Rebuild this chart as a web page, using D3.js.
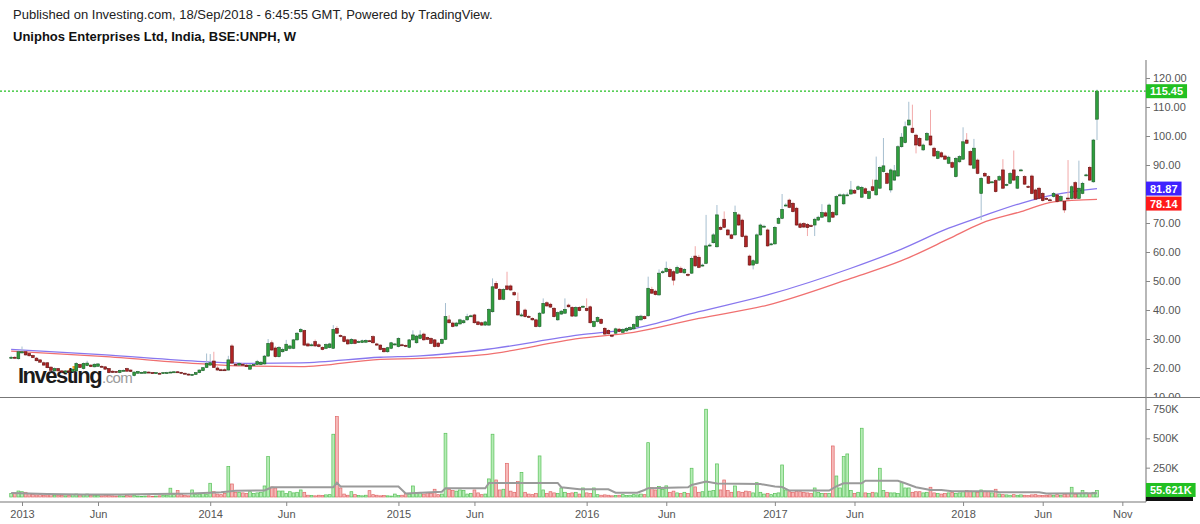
<!DOCTYPE html>
<html><head><meta charset="utf-8">
<script src="https://cdn.jsdelivr.net/npm/d3@7"></script>
<style>body{margin:0;background:#fff;} svg{display:block;font-family:"Liberation Sans",Arial,sans-serif;}</style>
</head><body><svg id="c" width="1200" height="524"></svg>
<script>
// ---- DATA ----
const firstWeek = [2012, 11, 17]; // first weekly bar (Mon 17 Dec 2012)
const opens = [
23.5,23.7,23.2,25.2,25.6,25.0,24.3,23.4,22.8,21.8,
21.8,20.3,19.0,19.8,19.0,18.6,19.0,18.8,19.0,21.2,
19.8,20.8,21.0,20.4,20.6,20.6,20.4,19.8,18.9,18.8,
18.4,19.1,19.8,19.3,17.4,18.2,18.4,18.2,18.6,18.4,
18.3,18.2,18.2,18.4,18.5,18.6,18.7,18.5,18.2,17.9,
17.6,17.8,18.4,19.1,20.2,21.0,22.4,20.0,19.4,19.4,
19.3,27.6,21.3,21.0,21.3,21.0,19.6,20.8,21.2,21.2,
21.4,24.1,28.7,26.9,23.9,25.6,26.0,26.8,26.8,29.7,
32.5,32.9,28.3,27.8,29.1,28.0,27.1,26.8,27.0,26.8,
33.7,31.2,30.8,29.7,28.4,29.7,29.0,28.8,28.9,29.4,
30.8,28.3,27.9,26.8,25.6,26.8,28.0,27.4,28.0,27.8,
27.1,29.7,28.7,30.2,31.7,30.5,30.2,29.7,28.6,28.5,
29.9,36.6,35.5,34.5,35.2,35.6,36.6,37.9,38.3,35.9,
35.6,34.8,34.8,39.4,49.2,47.1,43.7,48.3,48.3,46.0,
42.9,38.0,40.0,37.8,37.1,36.6,34.3,38.9,42.5,42.0,
40.6,36.6,38.6,38.9,41.7,40.9,37.9,40.9,41.1,40.6,
41.1,34.3,36.0,36.8,33.7,33.0,31.3,32.0,33.4,32.3,
32.8,33.2,33.5,34.3,36.6,37.7,38.0,47.1,46.5,45.2,
53.0,53.2,54.0,53.2,52.7,54.4,52.8,52.3,52.7,58.6,
58.2,55.4,56.1,62.2,63.2,61.8,68.5,71.3,67.6,65.9,
65.9,72.8,71.0,65.5,58.6,55.5,56.1,65.9,68.8,67.6,
62.6,62.8,69.9,71.6,76.0,77.9,76.8,75.1,69.7,69.8,
69.5,69.1,69.3,71.0,72.0,73.5,70.4,73.6,72.8,79.5,
76.6,79.5,80.0,81.2,81.6,78.9,81.8,78.5,82.5,79.7,
82.0,87.7,87.1,81.4,84.8,86.2,96.3,97.7,103.8,102.7,
100.3,99.2,95.2,98.6,100.0,95.8,92.3,94.2,93.1,90.6,
90.8,86.0,91.1,92.0,98.6,94.6,88.9,91.7,80.2,87.1,
86.0,84.0,84.6,84.8,88.3,83.0,83.7,88.3,82.0,88.2,
86.0,82.6,86.2,81.4,82.0,80.2,78.5,78.0,79.1,79.7,
77.7,77.4,78.6,78.5,83.9,78.5,80.2,86.4,89.2,84.2,
105.8];
const highs = [
24.2,24.1,26.0,27.4,25.9,25.3,24.6,23.8,23.0,22.2,
22.0,20.6,20.2,20.0,19.3,19.3,19.2,19.8,22.0,21.5,
21.9,22.5,21.3,21.6,21.7,20.9,20.6,20.0,19.2,19.0,
19.4,19.5,20.1,19.5,18.8,19.0,18.7,18.9,18.8,18.6,
18.6,18.4,18.6,18.7,18.8,18.9,18.9,18.7,18.4,18.1,
18.0,18.6,19.5,20.3,25.0,24.8,25.6,20.6,19.8,19.9,
24.2,28.2,21.8,22.0,21.7,21.4,21.3,21.6,22.8,22.4,
24.5,30.0,29.5,27.5,27.6,27.0,29.7,28.0,30.0,32.4,
33.8,33.2,28.8,28.5,29.8,28.5,27.5,28.5,28.7,34.8,
34.4,31.6,31.2,30.1,30.3,30.0,29.5,29.8,29.9,29.7,
31.3,28.7,28.2,27.0,27.3,29.0,28.6,30.6,28.4,28.1,
30.0,33.0,31.4,33.0,32.2,30.8,30.6,30.0,29.0,30.2,
42.4,38.2,36.0,35.9,37.0,36.7,38.7,38.4,38.7,36.3,
36.0,36.3,40.6,50.9,50.0,47.6,47.5,53.2,48.8,46.5,
46.0,39.0,40.5,38.3,37.5,37.0,39.3,44.0,43.0,42.5,
41.0,39.5,40.0,44.0,42.2,41.3,41.3,41.3,41.6,44.0,
41.5,36.4,37.8,37.2,34.1,33.4,31.7,33.9,33.8,33.7,
34.1,34.4,35.4,38.2,38.4,38.1,51.5,48.0,47.0,54.0,
53.8,56.7,54.6,53.7,55.3,55.0,54.5,52.8,58.5,62.0,
59.0,56.0,72.8,63.0,66.5,76.2,69.0,74.0,68.0,66.3,
76.0,73.3,71.5,66.0,59.1,57.5,66.4,69.8,69.4,68.1,
63.2,69.0,72.1,80.0,76.8,78.4,77.3,75.6,70.2,70.3,
70.0,69.6,71.8,72.5,76.5,74.0,76.7,74.1,79.6,80.2,
80.2,80.5,84.5,81.7,83.0,82.8,82.3,81.3,85.0,92.9,
89.7,99.3,87.6,88.8,90.0,96.8,101.0,105.0,111.8,110.8,
100.8,99.7,97.4,101.4,109.0,96.3,95.1,94.7,93.6,93.2,
91.3,92.8,93.4,103.0,101.0,95.1,99.0,92.2,85.9,87.6,
86.5,84.5,85.1,86.5,92.0,83.6,87.6,95.0,86.5,88.7,
86.5,83.1,86.7,81.9,82.5,80.7,79.0,78.5,80.7,80.2,
79.6,77.9,91.7,83.0,84.4,91.5,84.2,87.0,89.7,99.0,
116.0];
const lows = [
23.2,23.3,22.9,25.0,24.3,24.0,23.4,22.3,21.8,20.8,
19.9,18.9,18.7,18.8,18.4,18.4,18.5,18.6,18.7,20.0,
19.5,20.6,20.3,20.2,20.4,20.2,19.4,18.2,18.3,18.5,
18.2,18.9,18.7,18.6,17.1,18.0,18.2,18.0,18.3,18.1,
18.1,17.9,18.0,18.2,18.3,18.4,18.4,18.1,17.8,17.4,
17.4,17.6,18.2,18.9,20.0,20.8,20.0,19.1,19.0,19.1,
19.1,21.3,20.7,20.8,20.8,20.3,19.3,20.6,21.0,21.0,
21.2,23.9,25.9,23.6,23.6,25.3,25.8,26.4,26.5,29.4,
32.2,27.6,27.3,27.5,27.3,27.1,26.1,26.5,26.8,26.6,
31.7,30.6,28.8,28.0,28.2,28.2,28.6,28.6,28.6,29.0,
28.4,27.6,26.1,25.3,25.3,26.5,27.7,27.1,27.6,27.2,
26.8,29.4,28.4,29.9,29.4,29.6,28.2,27.1,27.1,28.2,
29.6,35.3,34.0,34.2,34.9,35.3,36.3,37.6,35.3,34.7,
34.5,34.5,34.5,39.1,47.2,43.4,43.4,46.8,46.6,44.9,
38.0,37.7,37.4,37.2,36.3,34.0,34.0,38.6,41.1,40.7,
37.4,36.3,38.3,38.6,40.8,37.6,37.6,39.5,40.8,39.5,
35.3,34.0,35.7,35.1,31.4,31.5,30.6,31.7,32.3,32.0,
32.5,32.9,33.2,34.0,36.3,36.7,37.7,45.5,45.0,44.9,
52.5,52.9,51.2,48.5,52.4,52.7,52.5,51.5,52.4,54.9,
54.4,55.0,55.8,61.8,62.9,61.5,67.5,68.2,65.6,64.4,
65.6,69.0,65.0,61.5,55.2,54.0,55.8,65.6,68.5,61.8,
62.3,62.5,69.6,71.3,75.7,75.1,73.6,69.0,68.2,68.3,
65.5,68.7,65.5,70.7,71.7,72.1,70.1,71.7,72.5,79.2,
76.3,79.4,79.7,80.0,81.3,78.6,79.9,78.2,80.9,79.4,
81.7,87.4,83.4,80.5,84.5,85.9,96.0,97.4,103.5,100.9,
94.0,96.3,94.9,98.3,96.6,92.8,92.0,92.5,91.7,90.3,
88.9,85.7,90.8,91.7,97.2,89.7,88.6,86.8,71.0,85.9,
83.4,83.7,80.5,84.5,81.7,82.7,83.4,84.5,81.7,87.9,
83.1,82.1,79.9,77.9,78.2,77.4,78.1,77.5,78.8,77.1,
77.4,73.5,78.2,78.2,78.2,78.2,79.9,86.1,84.5,83.9,
98.6];
const closes = [
23.7,23.6,25.6,25.6,24.5,24.2,23.6,22.5,22.0,21.0,
20.1,19.2,19.8,19.0,18.6,19.0,18.8,19.5,21.6,20.2,
21.6,21.7,20.5,21.3,21.4,20.4,19.6,18.4,18.5,18.7,
19.2,19.2,18.9,18.8,18.6,18.8,18.5,18.7,18.5,18.3,
18.4,18.1,18.4,18.4,18.6,18.7,18.6,18.3,18.0,17.6,
17.8,18.4,19.3,20.1,21.6,21.8,20.2,19.3,19.3,19.3,
22.8,21.7,21.0,21.6,21.0,20.5,21.0,21.2,22.2,22.0,
24.1,28.5,26.2,23.9,27.1,26.4,28.2,27.6,29.7,32.0,
33.3,27.9,27.6,28.0,27.6,27.4,26.4,28.1,28.3,33.3,
32.0,31.0,29.1,28.3,29.9,28.5,29.1,29.4,29.5,29.3,
28.7,27.9,26.4,25.6,27.0,28.7,28.3,30.2,27.9,27.5,
29.7,31.4,31.0,31.4,29.7,29.9,28.5,27.4,27.4,29.9,
37.7,35.6,34.3,35.5,36.6,36.3,37.7,38.0,35.6,35.0,
34.8,35.9,40.2,48.0,47.5,43.7,47.1,47.1,46.9,45.2,
38.3,38.3,37.7,37.5,36.6,34.3,38.9,42.3,41.4,41.0,
37.7,39.1,39.6,40.2,41.1,37.9,40.9,39.8,41.3,39.8,
35.6,36.0,37.4,35.4,31.7,31.8,31.1,33.5,32.6,33.3,
33.7,34.0,35.0,37.7,37.9,37.0,47.5,45.8,45.3,52.7,
53.2,54.4,51.5,50.3,54.7,53.0,54.0,52.1,57.8,55.2,
54.7,55.5,62.1,62.4,65.9,72.8,67.8,68.5,65.9,64.7,
73.6,69.3,65.3,61.8,55.5,57.0,65.9,69.3,68.9,62.1,
62.8,68.5,71.6,74.7,76.2,75.4,73.9,69.3,68.5,68.6,
68.4,69.0,71.3,72.0,73.6,72.4,76.2,72.0,79.1,79.7,
79.7,79.7,81.4,80.3,82.5,82.3,80.2,80.8,81.2,84.8,
89.2,89.7,83.7,88.3,88.0,96.3,99.6,103.2,105.5,101.2,
96.9,96.6,96.9,100.9,96.9,93.1,94.6,92.8,92.0,92.7,
89.2,92.3,92.9,98.0,97.5,90.0,95.8,87.1,85.4,86.2,
83.7,84.2,80.8,86.0,82.0,83.3,87.1,84.8,86.0,88.3,
83.4,82.4,80.2,78.2,78.5,77.7,78.4,77.8,80.2,77.4,
79.1,74.5,78.5,82.5,78.5,82.0,83.7,86.6,84.8,98.6,
115.45];
// weekly volume, thousands of shares
const volumesK = [
30,35,51,45,40,30,22,18,20,15,
18,20,15,12,14,10,12,20,25,18,
22,25,15,12,14,10,12,15,10,8,
10,8,12,10,15,8,6,8,10,6,
8,10,12,15,75,20,55,25,15,10,
60,20,25,30,20,117,45,25,20,30,
259,111,40,40,35,30,45,30,35,40,
94,344,85,77,51,51,30,45,35,40,
60,40,15,12,10,15,12,18,20,535,
685,77,25,15,45,20,12,10,15,54,
20,15,10,12,10,8,25,12,15,30,
25,94,30,40,25,35,30,66,20,25,
543,66,55,50,60,55,25,30,60,35,
20,25,154,535,145,60,66,287,50,40,
131,210,40,25,20,30,350,60,30,45,
35,30,77,40,30,35,40,25,77,35,
30,77,20,15,18,15,10,12,15,20,
12,15,20,18,25,20,463,80,60,90,
65,95,40,50,35,30,40,30,245,86,
40,45,748,50,55,282,60,145,55,40,
94,45,40,50,45,35,122,40,25,30,
20,30,35,273,60,45,40,50,45,40,
35,30,77,40,30,30,30,435,179,77,
344,367,55,30,40,586,35,30,40,35,
245,55,40,35,35,30,122,77,77,40,
45,45,35,40,83,35,30,25,30,35,
40,30,35,45,55,50,45,40,60,50,
45,35,66,25,20,18,15,20,15,18,
15,12,18,20,15,12,15,18,15,20,
15,25,30,83,25,30,55,35,30,40,
55.621];
// moving averages (sampled at bar indices)
const maIdx  = [0,25,53,64,80,102,113,130,157,172,190,209,232,246,259,268,279,288,300];
const maBlue = [26.4,24.6,22.2,21.6,21.8,23.7,24.2,26.2,31.4,33.6,39.4,45.2,54.4,61.0,68.2,72.2,76.8,79.7,81.87];
const maRed  = [25.8,24.0,21.4,20.7,20.5,23.0,23.3,24.5,30.2,32.3,37.1,41.7,50.9,57.0,64.5,69.9,73.9,77.3,78.14];
const vmaIdx = [0,10,20,30,40,50,58,62,70,72,89,90,91,107,109,119,120,131,132,151,152,157,165,167,173,175,176,187,188,192,195,207,211,213,215,226,228,230,235,236,245,247,250,254,257,260,271,273,284,286,300];
const vmaK   = [34,25,22,22,25,30,40,54,56,83,83,122,90,90,30,45,75,75,120,120,83,66,66,37,37,60,75,83,102,131,115,110,90,85,55,55,90,117,117,139,139,117,83,60,60,50,50,40,40,30,32];
const priceTicks = [120,110,100,90,80,70,60,50,40,30,20,10];
const volTicks = [750000,500000,250000];
const volTickLabels = ["750K","500K","250K"];
const timeTicks = ["2013-01-07","2013-06-03","2014-01-06","2014-06-02","2015-01-05","2015-06-01","2016-01-04","2016-06-06","2017-01-02","2017-06-05","2018-01-01","2018-06-04","2018-11-05"];
const timeTickLabels = ["2013","Jun","2014","Jun","2015","Jun","2016","Jun","2017","Jun","2018","Jun","Nov"];
const lastPrice = 115.45, lastBlue = 81.87, lastRed = 78.14, lastVol = "55.621K";
const title1 = "Published on Investing.com, 18/Sep/2018 - 6:45:55 GMT, Powered by TradingView.";
const title2 = "Uniphos Enterprises Ltd, India, BSE:UNPH, W";

// ---- DRAW ----
const svg = d3.select("#c");
const AX = 1146;
const dates = opens.map((_, i) => new Date(Date.UTC(firstWeek[0], firstWeek[1], firstWeek[2] + 7 * i)));
const x = d3.scaleUtc().domain([new Date(Date.UTC(2013,0,7)), new Date(Date.UTC(2018,8,17))]).range([22,1097]);
const y = d3.scaleLinear().domain([10,120]).range([397,78]);
const yv = d3.scaleLinear().domain([0,750000]).range([497,409]);

svg.append("rect").attr("width",1200).attr("height",524).attr("fill","#fff");
svg.append("text").attr("x",13).attr("y",19).attr("font-size",13).attr("fill","#222").text(title1);
svg.append("text").attr("x",13).attr("y",41).attr("font-size",13).attr("font-weight","bold").attr("fill","#111").text(title2);

const defs = svg.append("defs");
defs.append("clipPath").attr("id","pclip").append("rect").attr("x",0).attr("y",58).attr("width",AX).attr("height",397-58);
defs.append("clipPath").attr("id","vclip").append("rect").attr("x",0).attr("y",398).attr("width",AX).attr("height",502-398);
// axis group is translated by AX, so its clip rect is in local coordinates
defs.append("clipPath").attr("id","aclip").append("rect").attr("x",0).attr("y",58).attr("width",60).attr("height",397-58);

// logo
const logo = svg.append("g");
const lt = logo.append("text").attr("x",18).attr("y",383).attr("font-size",22).attr("font-weight","bold")
  .attr("letter-spacing","-1.5").attr("fill","#1b1b1b").text("Investing");
const lw = lt.node().getComputedTextLength();
logo.append("text").attr("x",18+lw+1).attr("y",383).attr("font-size",15).attr("fill","#9a9a9a").attr("letter-spacing","-0.6").text(".com");
try {
  const ext = lt.node().getExtentOfChar(6);
  logo.append("rect").attr("x",ext.x+ext.width/2-2.4).attr("y",ext.y+3).attr("width",4.4).attr("height",4).attr("fill","#f5a623");
} catch(e) {}

// price panel
const pg = svg.append("g").attr("clip-path","url(#pclip)");
const maLine = arr => d3.line().x((d,i)=>x(dates[maIdx[i]])).y(d=>y(d)).curve(d3.curveMonotoneX)(arr);
pg.append("path").attr("d",maLine(maRed)).attr("fill","none").attr("stroke","#f07070").attr("stroke-width",1.3);
pg.append("path").attr("d",maLine(maBlue)).attr("fill","none").attr("stroke","#8877ee").attr("stroke-width",1.3);

const bw = 2.8;
const bars = pg.append("g").selectAll("g").data(opens).join("g");
bars.append("line")
  .attr("x1",(d,i)=>x(dates[i])).attr("x2",(d,i)=>x(dates[i]))
  .attr("y1",(d,i)=>y(highs[i])).attr("y2",(d,i)=>y(lows[i]))
  .attr("stroke",(d,i)=>closes[i]>=opens[i]?"#a6bfd0":"#f2a9a9").attr("stroke-width",1);
bars.append("rect")
  .attr("x",(d,i)=>x(dates[i])-bw/2).attr("width",bw)
  .attr("y",(d,i)=>y(Math.max(opens[i],closes[i])))
  .attr("height",(d,i)=>Math.max(1,Math.abs(y(opens[i])-y(closes[i]))))
  .attr("fill",(d,i)=>closes[i]>=opens[i]?"#2e9e3e":"#b02424")
  .attr("stroke",(d,i)=>closes[i]>=opens[i]?"#1c5a24":"#5e1212").attr("stroke-width",0.6);

// last price dotted line
pg.append("line").attr("x1",0).attr("x2",AX).attr("y1",y(lastPrice)).attr("y2",y(lastPrice))
  .attr("stroke","#22c022").attr("stroke-width",1.2).attr("stroke-dasharray","2,2");

// volume panel
const vg = svg.append("g").attr("clip-path","url(#vclip)");
vg.selectAll("rect").data(volumesK).join("rect")
  .attr("x",(d,i)=>x(dates[i])-bw/2).attr("width",bw)
  .attr("y",d=>yv(d*1000)).attr("height",d=>Math.max(0.5,yv(0)-yv(d*1000)))
  .attr("fill",(d,i)=>closes[i]>=opens[i]?"#b6ecb6":"#f6b9b9")
  .attr("stroke",(d,i)=>closes[i]>=opens[i]?"#58c058":"#e06868").attr("stroke-width",0.7);
vg.append("path").attr("d",d3.line().x((d,i)=>x(dates[vmaIdx[i]])).y(d=>yv(d*1000))(vmaK))
  .attr("fill","none").attr("stroke","#9a9a9a").attr("stroke-width",2);

// separators and axes
svg.append("line").attr("x1",0).attr("x2",1200).attr("y1",397.5).attr("y2",397.5).attr("stroke","#777").attr("stroke-width",1.2);
svg.append("line").attr("x1",0).attr("x2",AX).attr("y1",502).attr("y2",502).attr("stroke","#777").attr("stroke-width",1.2);
svg.append("line").attr("x1",AX).attr("x2",AX).attr("y1",60).attr("y2",502).attr("stroke","#888").attr("stroke-width",1.2);

// positions of the last-value tags, so tick labels hidden under them are not drawn
const yb = y(lastBlue), yr = Math.max(y(lastRed), yb + 15), yp = y(lastPrice);
const tagYs = [yp, yb, yr];
const hidden = v => tagYs.some(t => Math.abs(y(v) - t) < 11);

const pa = svg.append("g").attr("transform",`translate(${AX},0)`).attr("clip-path","url(#aclip)")
  .call(d3.axisRight(y).tickValues(priceTicks).tickFormat(d=>hidden(d) ? "" : d.toFixed(2)).tickSize(4).tickPadding(3));
pa.select(".domain").remove();
pa.selectAll("line").attr("stroke","#888");
pa.selectAll("text").attr("fill","#555").attr("font-size",11).attr("font-family","Liberation Sans, Arial, sans-serif");

const va = svg.append("g").attr("transform",`translate(${AX},0)`)
  .call(d3.axisRight(yv).tickValues(volTicks).tickFormat((d,i)=>volTickLabels[i]).tickSize(4).tickPadding(3));
va.select(".domain").remove();
va.selectAll("line").attr("stroke","#888");
va.selectAll("text").attr("fill","#555").attr("font-size",11).attr("font-family","Liberation Sans, Arial, sans-serif");

const ta = svg.append("g").attr("transform","translate(0,502)")
  .call(d3.axisBottom(x).tickValues(timeTicks.map(s=>new Date(s+"T00:00:00Z"))).tickFormat((d,i)=>timeTickLabels[i]).tickSize(4).tickPadding(4));
ta.select(".domain").remove();
ta.selectAll("line").attr("stroke","#888");
ta.selectAll("text").attr("fill","#555").attr("font-size",11).attr("font-family","Liberation Sans, Arial, sans-serif");

// value labels on axis
function tag(yc, fill, txt) {
  const g = svg.append("g");
  const r = g.append("rect").attr("x",AX).attr("y",yc-7).attr("height",14).attr("fill",fill);
  const t = g.append("text").attr("x",AX+4).attr("y",yc+4).attr("font-size",11).attr("font-weight","bold").attr("fill","#fff").text(txt);
  r.attr("width",t.node().getComputedTextLength()+8);
}
tag(yp, "#22c022", lastPrice.toFixed(2));
tag(yb, "#3f22ff", lastBlue.toFixed(2));
tag(yr, "#ff1a1a", lastRed.toFixed(2));
svg.append("rect").attr("x",AX).attr("y",490).attr("width",47).attr("height",11).attr("fill","#111");
tag(yv(55621)-0.5, "#22c022", lastVol);
</script></body></html>
